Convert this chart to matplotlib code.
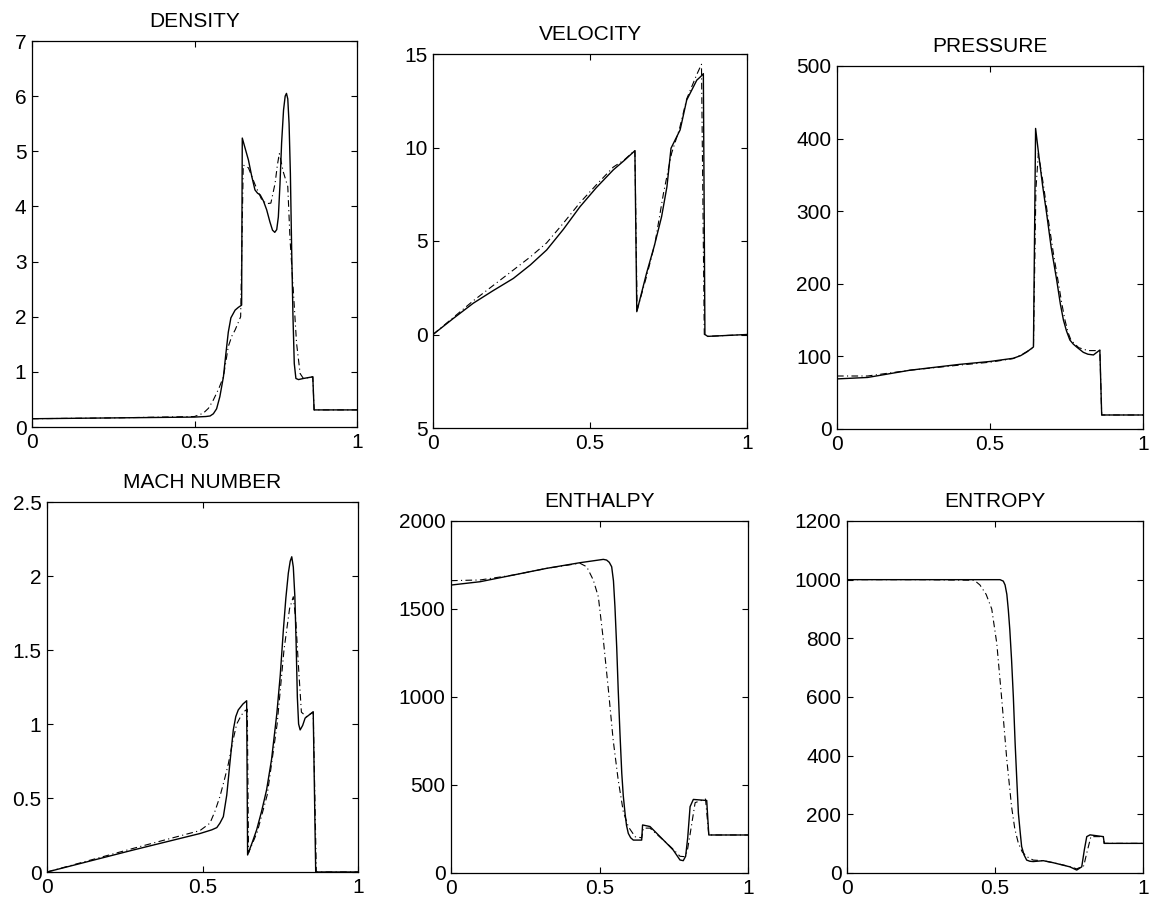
import matplotlib
matplotlib.use("Agg")
import matplotlib.pyplot as plt

plt.rcParams['font.family'] = ['Liberation Sans', 'DejaVu Sans']

# ---------------- DENSITY ----------------
dens_x_s = [0.0, 0.25, 0.50, 0.535, 0.548, 0.558, 0.568, 0.578, 0.589, 0.596, 0.604, 0.612,
            0.625, 0.635, 0.645, 0.647, 0.656, 0.666, 0.676, 0.686, 0.694, 0.702, 0.712,
            0.722, 0.732, 0.740, 0.747, 0.753, 0.758, 0.763, 0.768, 0.774, 0.779, 0.783,
            0.787, 0.791, 0.795, 0.799, 0.803, 0.807, 0.812, 0.820, 0.835, 0.864, 0.868, 1.0]
dens_y_s = [0.15, 0.165, 0.18, 0.19, 0.20, 0.24, 0.33, 0.55, 0.91, 1.30, 1.72, 1.98,
            2.12, 2.17, 2.21, 5.24, 5.05, 4.84, 4.55, 4.30, 4.24, 4.21, 4.10,
            3.94, 3.72, 3.57, 3.53, 3.58, 3.81, 4.40, 5.15, 5.75, 6.00, 6.05,
            5.95, 5.50, 4.60, 3.20, 2.00, 1.15, 0.88, 0.86, 0.88, 0.91, 0.31, 0.31]
dens_x_d = [0.0, 0.25, 0.50, 0.527, 0.543, 0.558, 0.575, 0.589, 0.604, 0.615, 0.625, 0.642,
            0.650, 0.666, 0.686, 0.707, 0.722, 0.735, 0.748, 0.755, 0.761, 0.767, 0.773,
            0.787, 0.794, 0.804, 0.814, 0.825, 0.835, 0.864, 0.868, 1.0]
dens_y_d = [0.15, 0.165, 0.19, 0.25, 0.34, 0.49, 0.70, 0.91, 1.46, 1.65, 1.76, 2.00,
            4.75, 4.70, 4.40, 4.12, 4.05, 4.06, 4.42, 4.75, 4.96, 4.80, 4.63,
            4.36, 3.40, 2.48, 1.52, 0.97, 0.88, 0.91, 0.31, 0.31]

# ---------------- VELOCITY ----------------
vel_x_s = [0.0, 0.064, 0.128, 0.19, 0.256, 0.31, 0.362, 0.415, 0.468, 0.52, 0.574, 0.61,
           0.643, 0.649, 0.680, 0.705, 0.728, 0.745, 0.758, 0.787, 0.808, 0.825, 0.840,
           0.853, 0.861, 0.866, 0.875, 1.0]
vel_y_s = [0.0, 0.85, 1.67, 2.33, 3.0, 3.72, 4.52, 5.62, 6.83, 7.85, 8.80, 9.32,
           9.83, 1.22, 3.27, 4.75, 6.3, 7.9, 9.96, 10.94, 12.54, 13.1, 13.6,
           13.8, 13.95, 0.0, -0.1, 0.0]
vel_x_d = [0.0, 0.064, 0.128, 0.19, 0.256, 0.31, 0.362, 0.415, 0.468, 0.52, 0.574, 0.61,
           0.643, 0.650, 0.680, 0.707, 0.734, 0.760, 0.785, 0.808, 0.840, 0.855, 0.864,
           0.875, 1.0]
vel_y_d = [0.0, 0.9, 1.8, 2.6, 3.45, 4.15, 4.9, 5.95, 7.05, 8.0, 8.95, 9.35,
           9.85, 1.3, 3.1, 4.88, 7.55, 9.7, 11.0, 12.6, 13.9, 14.45, 0.0,
           -0.1, 0.0]

# ---------------- PRESSURE ----------------
pres_x_s = [0.0, 0.1, 0.239, 0.4, 0.5, 0.576, 0.600, 0.620, 0.642, 0.649, 0.660, 0.672,
            0.685, 0.700, 0.718, 0.730, 0.740, 0.750, 0.761, 0.772, 0.783, 0.805, 0.820,
            0.838, 0.859, 0.865, 1.0]
pres_y_s = [69, 71, 81, 89, 93, 97.4, 101, 106, 113, 414, 375, 335,
            297, 250, 205, 172, 150, 135, 122.6, 117, 113, 105.6, 103,
            102, 108.8, 19.3, 19.3]
pres_x_d = [0.0, 0.1, 0.239, 0.4, 0.5, 0.576, 0.610, 0.642, 0.650, 0.658, 0.675, 0.690,
            0.706, 0.722, 0.735, 0.745, 0.755, 0.765, 0.790, 0.820, 0.845, 0.859, 0.865, 1.0]
pres_y_d = [73, 73, 81, 88, 92, 97, 104, 112, 330, 380, 335, 290,
            245, 205, 172, 150, 133, 122, 112, 108, 108, 108, 19.3, 19.3]

# ---------------- MACH NUMBER ----------------
mach_x_s = [0.0, 0.278, 0.492, 0.530, 0.546, 0.556, 0.567, 0.578, 0.588, 0.599, 0.607,
            0.615, 0.630, 0.642, 0.645, 0.660, 0.674, 0.690, 0.706, 0.722, 0.739, 0.750,
            0.760, 0.768, 0.776, 0.782, 0.787, 0.792, 0.797, 0.801, 0.805, 0.809, 0.814,
            0.822, 0.830, 0.856, 0.864, 1.0]
mach_y_s = [0.0, 0.149, 0.26, 0.285, 0.30, 0.33, 0.374, 0.52, 0.734, 0.96, 1.05,
            1.095, 1.135, 1.157, 0.115, 0.20, 0.284, 0.41, 0.554, 0.76, 1.07, 1.33,
            1.635, 1.85, 2.02, 2.10, 2.13, 2.06, 1.86, 1.55, 1.18, 1.00, 0.96,
            0.99, 1.04, 1.083, 0.0, 0.0]
mach_x_d = [0.0, 0.278, 0.492, 0.524, 0.540, 0.556, 0.570, 0.583, 0.597, 0.610, 0.625,
            0.637, 0.644, 0.648, 0.676, 0.708, 0.740, 0.762, 0.780, 0.792, 0.800, 0.808,
            0.818, 0.834, 0.856, 0.866, 1.0]
mach_y_d = [0.0, 0.16, 0.28, 0.33, 0.41, 0.51, 0.62, 0.73, 0.88, 1.0, 1.06,
            1.09, 1.10, 0.13, 0.27, 0.52, 1.0, 1.50, 1.78, 1.86, 1.70, 1.41,
            1.08, 1.05, 1.08, 0.0, 0.0]

# ---------------- ENTHALPY ----------------
enth_x_s = [0.0, 0.098, 0.21, 0.322, 0.434, 0.513, 0.524, 0.533, 0.541, 0.547, 0.552,
            0.558, 0.563, 0.569, 0.575, 0.580, 0.586, 0.591, 0.597, 0.605, 0.614, 0.642,
            0.645, 0.670, 0.693, 0.726, 0.748, 0.771, 0.782, 0.790, 0.797, 0.805, 0.816,
            0.861, 0.868, 1.0]
enth_y_s = [1636, 1655, 1693, 1731, 1763, 1782, 1778, 1765, 1740, 1660, 1513,
            1280, 1040, 790, 566, 440, 339, 270, 225, 200, 187, 187,
            273, 264, 225, 169, 131, 74, 70, 95, 200, 377, 418,
            412, 216, 216]
enth_x_d = [0.0, 0.098, 0.21, 0.322, 0.434, 0.457, 0.479, 0.496, 0.513, 0.530, 0.546,
            0.563, 0.580, 0.597, 0.620, 0.642, 0.648, 0.670, 0.693, 0.726, 0.748, 0.771,
            0.785, 0.795, 0.805, 0.822, 0.857, 0.868, 1.0]
enth_y_d = [1661, 1665, 1693, 1731, 1760, 1740, 1665, 1570, 1324, 1040, 756,
            528, 350, 263, 206, 200, 255, 255, 220, 170, 135, 95,
            93, 120, 220, 400, 420, 216, 216]

# ---------------- ENTROPY ----------------
entr_x_s = [0.0, 0.25, 0.517, 0.528, 0.534, 0.540, 0.545, 0.550, 0.556, 0.562, 0.568,
            0.574, 0.579, 0.585, 0.590, 0.598, 0.607, 0.618, 0.629, 0.663, 0.697, 0.753,
            0.776, 0.793, 0.802, 0.810, 0.821, 0.866, 0.869, 1.0]
entr_y_s = [1000, 1000, 1000, 995, 982, 950, 897, 830, 726, 600, 442,
            310, 204, 140, 90, 62, 44, 40, 39, 42, 35, 21,
            10, 21, 80, 124, 130, 124, 101, 101]
entr_x_d = [0.0, 0.25, 0.430, 0.449, 0.470, 0.489, 0.506, 0.523, 0.540, 0.556, 0.567,
            0.579, 0.592, 0.607, 0.629, 0.663, 0.697, 0.753, 0.776, 0.800, 0.810, 0.824,
            0.866, 0.869, 1.0]
entr_y_d = [1000, 1000, 998, 982, 950, 900, 783, 590, 385, 226, 150,
            101, 72, 56, 44, 42, 35, 22, 14, 25, 68, 124,
            124, 101, 101]

titles = ["DENSITY", "VELOCITY", "PRESSURE", "MACH NUMBER", "ENTHALPY", "ENTROPY"]
series = [
    (dens_x_s, dens_y_s, dens_x_d, dens_y_d),
    (vel_x_s, vel_y_s, vel_x_d, vel_y_d),
    (pres_x_s, pres_y_s, pres_x_d, pres_y_d),
    (mach_x_s, mach_y_s, mach_x_d, mach_y_d),
    (enth_x_s, enth_y_s, enth_x_d, enth_y_d),
    (entr_x_s, entr_y_s, entr_x_d, entr_y_d),
]
ylims = [(0, 7), (-5, 15), (0, 500), (0, 2.5), (0, 2000), (0, 1200)]
yticks = [[0, 1, 2, 3, 4, 5, 6, 7],
          [-5, 0, 5, 10, 15],
          [0, 100, 200, 300, 400, 500],
          [0, 0.5, 1, 1.5, 2, 2.5],
          [0, 500, 1000, 1500, 2000],
          [0, 200, 400, 600, 800, 1000, 1200]]
ytick_labels = [["0", "1", "2", "3", "4", "5", "6", "7"],
                ["5", "0", "5", "10", "15"],
                ["0", "100", "200", "300", "400", "500"],
                ["0", "0.5", "1", "1.5", "2", "2.5"],
                ["0", "500", "1000", "1500", "2000"],
                ["0", "200", "400", "600", "800", "1000", "1200"]]
xticks = [0, 0.5, 1]
xtick_labels = ["0", "0.5", "1"]

W, H = 1151, 899
# axes boxes in pixels: left, top, right, bottom
boxes = [(32, 41, 357, 427), (433, 54, 747, 428), (837, 66, 1143, 429),
         (47, 502, 358, 872), (451, 521, 748, 873), (847, 521, 1143, 873)]

fig = plt.figure(figsize=(W / 100, H / 100), dpi=100)
for i in range(6):
    l, t, r, b = boxes[i]
    ax = fig.add_axes([l / W, 1 - b / H, (r - l) / W, (b - t) / H])
    xs, ys, xd, yd = series[i]
    ax.plot(xs, ys, color='black', lw=1.0, linestyle='-')
    ax.plot(xd, yd, color='black', lw=0.8, linestyle=(0, (6, 3, 1, 3)))
    ax.set_xlim(0, 1)
    ax.set_ylim(*ylims[i])
    ax.set_xticks(xticks)
    ax.set_xticklabels(xtick_labels)
    ax.set_yticks(yticks[i])
    ax.set_yticklabels(ytick_labels[i])
    ax.tick_params(direction='in', length=4, width=0.8, top=True, right=True,
                   labelsize=15, pad=4, colors='black')
    for sp in ax.spines.values():
        sp.set_linewidth(0.9)
        sp.set_color('black')
    ax.set_title(titles[i], fontsize=15, pad=10)

fig.savefig("out.png", dpi=100)
